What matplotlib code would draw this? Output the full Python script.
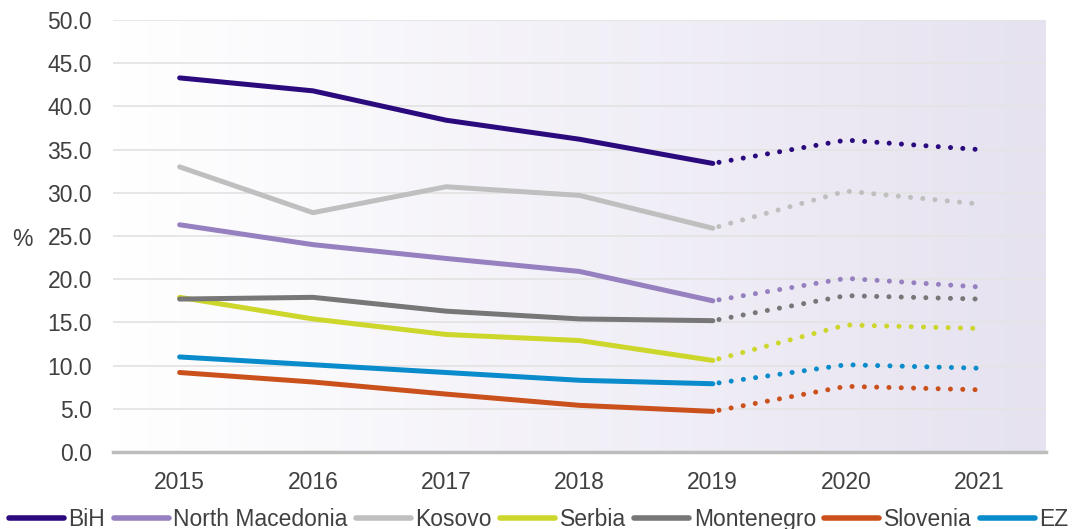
import numpy as np
import matplotlib
matplotlib.use("Agg")
import matplotlib.pyplot as plt
from matplotlib.colors import LinearSegmentedColormap

years = ["2015", "2016", "2017", "2018", "2019", "2020", "2021"]
bih = [43.3, 41.8, 38.4, 36.2, 33.4, 36.1, 35.0]
north_macedonia = [26.3, 24.0, 22.4, 20.9, 17.5, 20.1, 19.1]
kosovo = [33.0, 27.7, 30.7, 29.7, 25.9, 30.2, 28.7]
serbia = [17.9, 15.4, 13.6, 12.9, 10.6, 14.7, 14.3]
montenegro = [17.7, 17.9, 16.3, 15.4, 15.2, 18.1, 17.7]
slovenia = [9.2, 8.1, 6.7, 5.4, 4.7, 7.6, 7.2]
ez = [11.0, 10.1, 9.2, 8.3, 7.9, 10.1, 9.7]

series = [
    ("BiH", bih, "#2B0A7E"),
    ("North Macedonia", north_macedonia, "#9680C0"),
    ("Kosovo", kosovo, "#BFBFBF"),
    ("Serbia", serbia, "#CDD62B"),
    ("Montenegro", montenegro, "#777777"),
    ("Slovenia", slovenia, "#CB511C"),
    ("EZ", ez, "#0A8BCB"),
]
split = 4  # index of 2019: solid up to here, dotted after

plt.rcParams['font.family'] = ['Liberation Sans', 'DejaVu Sans']
txt = "#404040"

fig = plt.figure(figsize=(10.72, 5.29), dpi=100)
ax = fig.add_axes([113/1072, 1-452/529, (1046-113)/1072, (452-20)/529])

x = np.arange(len(years))
ax.set_xlim(-0.5, len(years) - 0.5)
ax.set_ylim(0, 50)

# gradient background
cmap = LinearSegmentedColormap.from_list("bg", ["#FFFFFF", "#E6E2F0"])
grad = np.linspace(0, 1, 256).reshape(1, -1)
ax.imshow(grad, cmap=cmap, aspect="auto", extent=(-0.5, len(years) - 0.5, 0, 50),
          zorder=0, interpolation="bicubic")

lw = 3.6
for name, vals, col in series:
    ax.plot(x[:split + 1], vals[:split + 1], color=col, lw=lw,
            solid_capstyle="round", solid_joinstyle="round", zorder=3, label=name)
    ax.plot(x[split:], vals[split:], color=col, lw=lw,
            linestyle=(1.2, (0.01, 2.45)), dash_capstyle="round", zorder=3)

ax.set_yticks(np.arange(0, 50.1, 5))
ax.set_yticklabels([f"{v:.1f}" for v in np.arange(0, 50.1, 5)])
ax.set_xticks(x)
ax.set_xticklabels(years)
ax.tick_params(axis="both", length=0, labelsize=16.5, colors=txt)
ax.tick_params(axis="y", pad=15)
ax.tick_params(axis="x", pad=14)
ax.grid(axis="y", color="#E4E4E4", lw=1.3, zorder=1)
ax.set_axisbelow(True)
for s in ["left", "right", "top"]:
    ax.spines[s].set_visible(False)
ax.spines["bottom"].set_color("#BDBDBD")
ax.spines["bottom"].set_linewidth(2.5)
ax.spines["bottom"].set_zorder(4)

fig.text(22/1072, 1-239/529, "%", fontsize=16.5, color=txt, ha="center", va="center")

leg = fig.legend(loc="upper left", bbox_to_anchor=(9/1072, 1-508/529), ncol=7,
                 frameon=False, fontsize=16.5, handlelength=2.4, handletextpad=0.2,
                 columnspacing=0.36, borderpad=0, borderaxespad=0)
for t in leg.get_texts():
    t.set_color(txt)
for h in leg.legend_handles:
    h.set_linewidth(4)

fig.savefig("out.png", dpi=100)
